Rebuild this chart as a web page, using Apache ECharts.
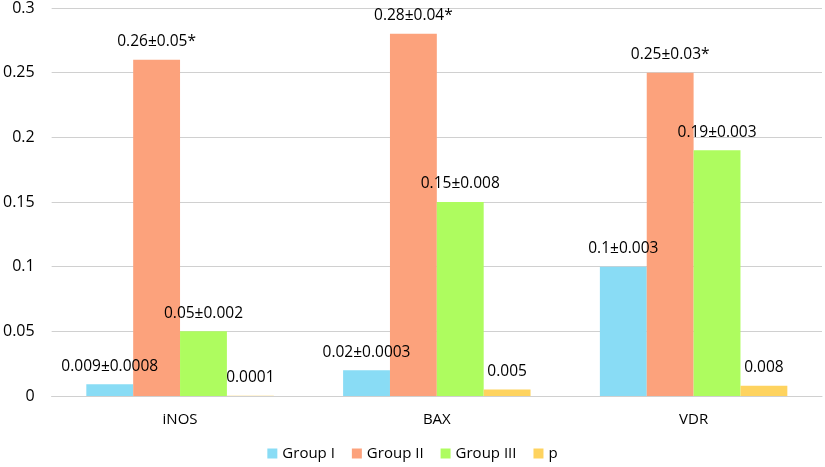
<!DOCTYPE html>
<html><head><meta charset="utf-8">
<script src="https://cdn.jsdelivr.net/npm/echarts@6/dist/echarts.min.js"></script>
<style>html,body{margin:0;padding:0;background:#fff}#c{width:825px;height:467px}</style>
</head><body><div id="c"></div>
<script>
const categories = ['iNOS', 'BAX', 'VDR'];
const seriesNames = ['Group I', 'Group II', 'Group III', 'p'];
const groupI = [0.009, 0.02, 0.1];
const groupII = [0.26, 0.28, 0.25];
const groupIII = [0.05, 0.15, 0.19];
const pValues = [0.0001, 0.005, 0.008];
const labelsI = ['0.009±0.0008', '0.02±0.0003', '0.1±0.003'];
const labelsII = ['0.26±0.05*', '0.28±0.04*', '0.25±0.03*'];
const labelsIII = ['0.05±0.002', '0.15±0.008', '0.19±0.003'];
const labelsP = ['0.0001', '0.005', '0.008'];
const yTicks = [0, 0.05, 0.1, 0.15, 0.2, 0.25, 0.3];

const colors = ['#89DCF5', '#FCA27C', '#AEFC5F', '#FED35F'];
const font = 'Open Sans, Liberation Sans, sans-serif';
function mk(name, vals, labels, color) {
  return {
    name, type: 'bar', data: vals, barGap: '0%', barCategoryGap: '27%',
    itemStyle: { color },
    label: { show: true, position: 'top', distance: 10, color: '#000', fontSize: 15.5, fontFamily: font,
      formatter: p => labels[p.dataIndex] }
  };
}
const chart = echarts.init(document.getElementById('c'), null, { renderer: 'canvas' });
chart.setOption({
  animation: false,
  grid: { left: 48, right: 3, top: 8, bottom: 71, containLabel: false },
  legend: {
    data: seriesNames, bottom: 1, left: 'center', itemWidth: 10, itemHeight: 10, itemGap: 17,
    icon: 'rect', textStyle: { fontSize: 15, fontFamily: font, color: '#000' }
  },
  xAxis: {
    type: 'category', data: categories,
    axisLine: { lineStyle: { color: '#d0d0d0' } }, axisTick: { show: false },
    axisLabel: { color: '#000', fontSize: 15, fontFamily: font, margin: 16 }
  },
  yAxis: {
    type: 'value', min: 0, max: 0.3, interval: 0.05,
    axisLine: { show: false }, axisTick: { show: false },
    splitLine: { lineStyle: { color: '#d0d0d0' } },
    axisLabel: { color: '#000', fontSize: 16, fontFamily: font, margin: 17,
      formatter: v => { const t = yTicks.find(x => Math.abs(x - v) < 1e-9); return String(t !== undefined ? t : v); } }
  },
  series: [
    mk(seriesNames[0], groupI, labelsI, colors[0]),
    mk(seriesNames[1], groupII, labelsII, colors[1]),
    mk(seriesNames[2], groupIII, labelsIII, colors[2]),
    mk(seriesNames[3], pValues, labelsP, colors[3])
  ]
});
</script></body></html>
